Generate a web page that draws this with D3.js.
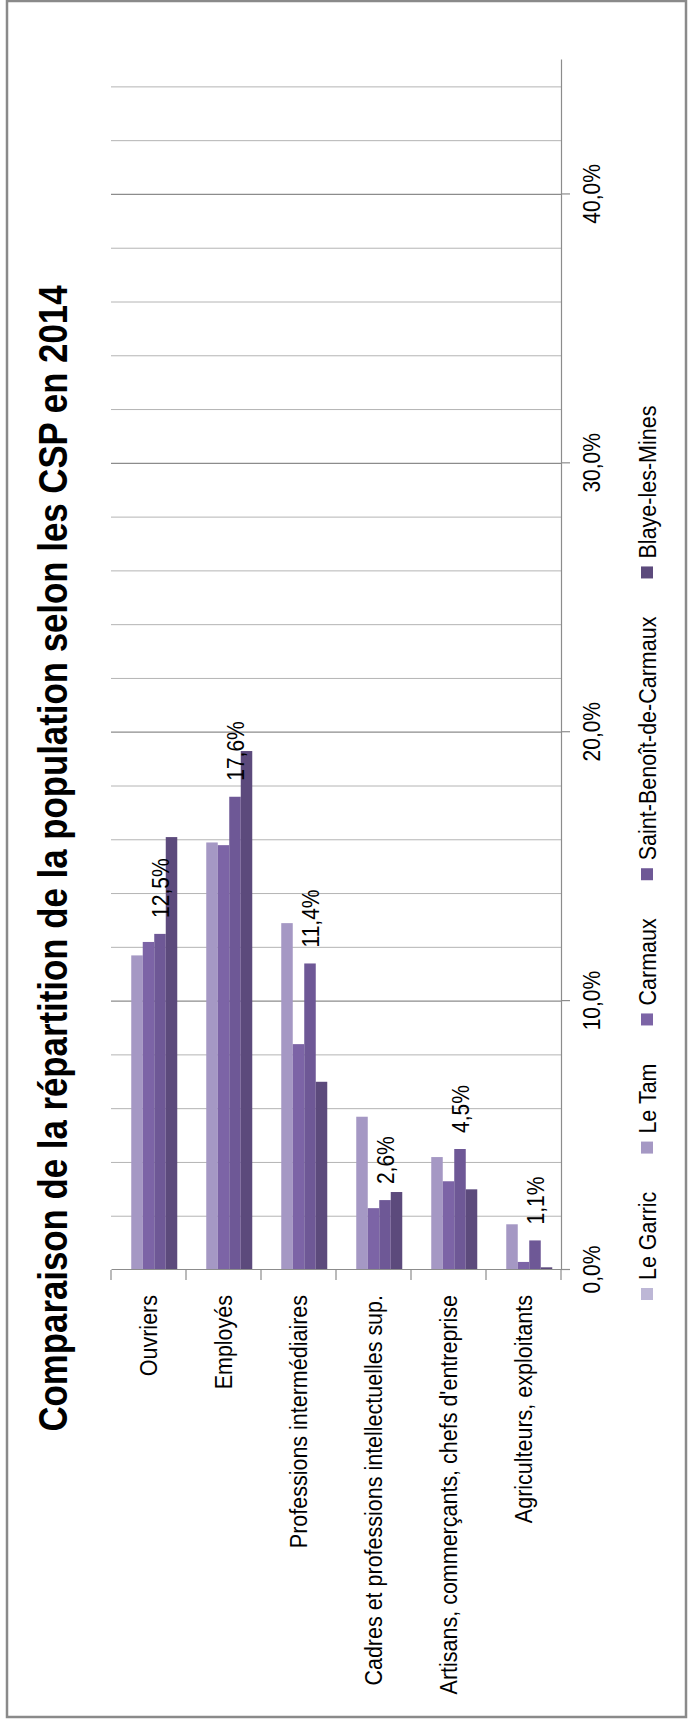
<!DOCTYPE html>
<html><head><meta charset="utf-8">
<script src="https://cdn.jsdelivr.net/npm/d3@7"></script>
<style>
body{margin:0;background:#fff}
svg{display:block}
text{font-family:"Liberation Sans",Arial,sans-serif;fill:#000}
</style>
</head><body>
<svg id="c" width="691" height="1724"></svg>
<script>
// ---- data (values in %) ----
const categories = ["Ouvriers","Employés","Professions intermédiaires","Cadres et professions intellectuelles sup.","Artisans, commerçants, chefs d'entreprise","Agriculteurs, exploitants"];
const seriesNames = ["Le Garric","Le Tam","Carmaux","Saint-Benoît-de-Carmaux","Blaye-les-Mines"];
const leGarric   = [0, 0, 0, 0, 0, 0];
const leTam      = [11.7, 15.9, 12.9, 5.7, 4.2, 1.7];
const carmaux    = [12.2, 15.8, 8.4, 2.3, 3.3, 0.3];
const saintBenoit= [12.5, 17.6, 11.4, 2.6, 4.5, 1.1];
const blaye      = [16.1, 19.3, 7.0, 2.9, 3.0, 0.1];
const valueTicks = [0, 10, 20, 30, 40];
const minorStep = 2;
const valueMax = 45;
const labelledSeries = "Saint-Benoît-de-Carmaux";
const titleText = "Comparaison de la répartition de la population selon les CSP en 2014";
const colors = ["#bdb7d6","#a598c4","#7c64a6","#6e5896","#5c4a7c"];

const seriesValues = [leGarric, leTam, carmaux, saintBenoit, blaye];
const fmt = v => v.toFixed(1).replace(".", ",") + "%";
const K = 1.15; // glyph stretch across the reading direction, as in the reference

// ---- drawing: a horizontal bar chart in a frame rotated by -90° ----
const W = 1724, H = 691;
const svg = d3.select("#c");
const g = svg.append("g").attr("transform", `translate(0,${W}) rotate(-90)`);

// frame
g.append("rect").attr("x", 7).attr("y", 7).attr("width", 1716).attr("height", 679)
  .attr("fill", "#fff").attr("stroke", "#8a8a8a").attr("stroke-width", 2.5);

const x = d3.scaleLinear().domain([0, valueMax]).range([454, 1664]);
const y = d3.scaleBand().domain(categories).range([111, 561]);
const ys = d3.scaleBand().domain(seriesNames).range([0, y.bandwidth()]).paddingOuter(0.76);
const color = d3.scaleOrdinal().domain(seriesNames).range(colors);

// minor gridlines
const minor = d3.range(0, valueMax, minorStep).filter(t => !valueTicks.includes(t));
g.append("g").selectAll("line").data(minor).join("line")
  .attr("x1", d => x(d)).attr("x2", d => x(d))
  .attr("y1", 111).attr("y2", 561)
  .attr("stroke", "#b4b4b4").attr("stroke-width", 1);
// major gridlines
g.append("g").selectAll("line").data(valueTicks.filter(t => t > 0)).join("line")
  .attr("x1", d => x(d)).attr("x2", d => x(d))
  .attr("y1", 111).attr("y2", 561)
  .attr("stroke", "#8c8c8c").attr("stroke-width", 1.2);

// bars
const rows = categories.map((c, i) => ({ c, vals: seriesNames.map((s, j) => ({ s, v: seriesValues[j][i] })) }));
const grp = g.append("g").selectAll("g").data(rows).join("g")
  .attr("transform", d => `translate(0,${y(d.c)})`);
grp.selectAll("rect").data(d => d.vals).join("rect")
  .attr("x", x(0)).attr("y", d => ys(d.s))
  .attr("width", d => x(d.v) - x(0)).attr("height", ys.bandwidth())
  .attr("fill", d => color(d.s));

// data labels
grp.selectAll("text.lbl").data(d => d.vals.filter(v => v.s === labelledSeries)).join("text")
  .attr("class", "lbl ctr")
  .attr("x", d => x(d.v) + 16).attr("y", d => ys(d.s) + ys.bandwidth() / 2)
  .attr("dy", "0.36em").attr("font-size", 21).text(d => fmt(d.v));

// value axis
const xAxis = g.append("g").attr("transform", "translate(0,561)")
  .call(d3.axisBottom(x).tickValues(valueTicks).tickFormat(fmt).tickSize(9).tickSizeOuter(0).tickPadding(15));
xAxis.select(".domain").attr("stroke", "#8c8c8c").attr("stroke-width", 1.2);
xAxis.selectAll(".tick line").attr("stroke", "#8c8c8c").attr("stroke-width", 1.2);
xAxis.selectAll(".tick text").attr("font-size", 21).attr("font-family", "Liberation Sans, Arial, sans-serif").attr("fill", "#000");

// category axis
const yAxis = g.append("g").attr("transform", `translate(${x(0)},0)`)
  .call(d3.axisLeft(y).tickSize(0).tickSizeOuter(0).tickPadding(25));
yAxis.select(".domain").attr("stroke", "#8c8c8c").attr("stroke-width", 1.2);
yAxis.selectAll(".tick text").attr("font-size", 21.5).attr("dy", "0.36em").classed("ctr", true)
  .attr("font-family", "Liberation Sans, Arial, sans-serif").attr("fill", "#000");
const bounds = categories.map(c => y(c)).concat([y.range()[1]]);
g.append("g").selectAll("line").data(bounds).join("line")
  .attr("x1", x(0) - 10).attr("x2", x(0)).attr("y1", d => d).attr("y2", d => d)
  .attr("stroke", "#8c8c8c").attr("stroke-width", 1.2);

// title
g.append("text").attr("x", 865.5).attr("y", 67).attr("text-anchor", "middle")
  .attr("font-size", 34.8).attr("font-weight", "bold").text(titleText);

// legend
const leg = g.append("g");
let cur = 424;
seriesNames.forEach((s, i) => {
  leg.append("rect").attr("x", cur).attr("y", 641).attr("width", 12).attr("height", 12).attr("fill", colors[i]);
  const t = leg.append("text").attr("class", "ctr").attr("x", cur + 20).attr("y", 647).attr("dy", "0.36em")
    .attr("font-size", 21.5).text(s);
  cur += 20 + t.node().getComputedTextLength() + 38;
});

// stretch glyphs across the reading direction (keeps baseline / centre)
g.selectAll("text").each(function () {
  const t = d3.select(this);
  const fs = parseFloat(t.attr("font-size")) || 16;
  const y0 = parseFloat(t.attr("y")) || 0;
  const dyA = t.attr("dy");
  const dyEm = dyA ? parseFloat(dyA) : 0;
  const base = t.classed("ctr") ? y0 + dyEm * fs * K : y0 + dyEm * fs;
  t.attr("dy", null).attr("y", base / K).attr("transform", `scale(1,${K})`);
});
</script>
</body></html>
